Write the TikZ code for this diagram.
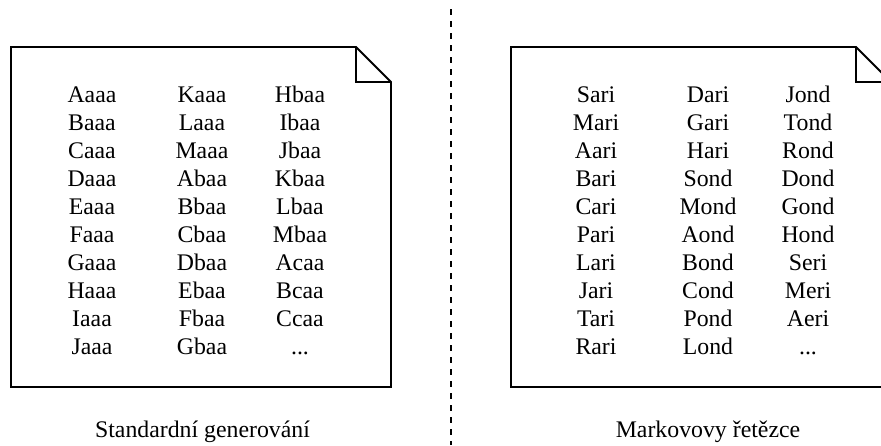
\documentclass[tikz,border=0pt]{standalone}
\usepackage{fontspec}
\setmainfont{Liberation Serif}
\newcommand\threedots{...}
\begin{document}
\begin{tikzpicture}[x=1pt,y=-1pt,
  sheet/.style={draw=black,line width=1.8pt,line join=miter},
  word/.style={anchor=base,inner sep=0pt,font=\fontsize{23.8}{23.8}\selectfont},
  caption/.style={anchor=base,inner sep=0pt,font=\fontsize{23.8}{23.8}\selectfont},
  divider/.style={draw=black,line width=2pt,dash pattern=on 6pt off 6pt}]
\useasboundingbox (0,0) rectangle (881,445);
\clip (0,0) rectangle (881,445);

% dog-eared sheets
\draw[sheet] (11,47) -- (356,47) -- (391,82) -- (391,387) -- (11,387) -- cycle;
\draw[sheet] (356,47) -- (356,82) -- (391,82);
\draw[sheet] (511,47) -- (856,47) -- (891,82) -- (891,387) -- (511,387) -- cycle;
\draw[sheet] (856,47) -- (856,82) -- (891,82);

% separator
\coordinate (top) at (451,9);
\coordinate (bottom) at (451,445);
\draw[divider] (top) -- (bottom);

% left sheet: standard generation
\foreach \w [count=\i] in {Aaaa,Baaa,Caaa,Daaa,Eaaa,Faaa,Gaaa,Haaa,Iaaa,Jaaa}
  \node[word] (la\i) at (92,{74+28*\i}) {\w};
\foreach \w [count=\i] in {Kaaa,Laaa,Maaa,Abaa,Bbaa,Cbaa,Dbaa,Ebaa,Fbaa,Gbaa}
  \node[word] (lb\i) at (202,{74+28*\i}) {\w};
\foreach \w [count=\i] in {Hbaa,Ibaa,Jbaa,Kbaa,Lbaa,Mbaa,Acaa,Bcaa,Ccaa,\threedots}
  \node[word] (lc\i) at (300,{74+28*\i}) {\w};

% right sheet: Markov chains
\foreach \w [count=\i] in {Sari,Mari,Aari,Bari,Cari,Pari,Lari,Jari,Tari,Rari}
  \node[word] (ra\i) at (596,{74+28*\i}) {\w};
\foreach \w [count=\i] in {Dari,Gari,Hari,Sond,Mond,Aond,Bond,Cond,Pond,Lond}
  \node[word] (rb\i) at (708,{74+28*\i}) {\w};
\foreach \w [count=\i] in {Jond,Tond,Rond,Dond,Gond,Hond,Seri,Meri,Aeri,\threedots}
  \node[word] (rc\i) at (808,{74+28*\i}) {\w};

% captions
\node[caption] (capL) at (202.5,437) {Standardní generování};
\node[caption] (capR) at (708,437) {Markovovy řetězce};
\end{tikzpicture}
\end{document}
